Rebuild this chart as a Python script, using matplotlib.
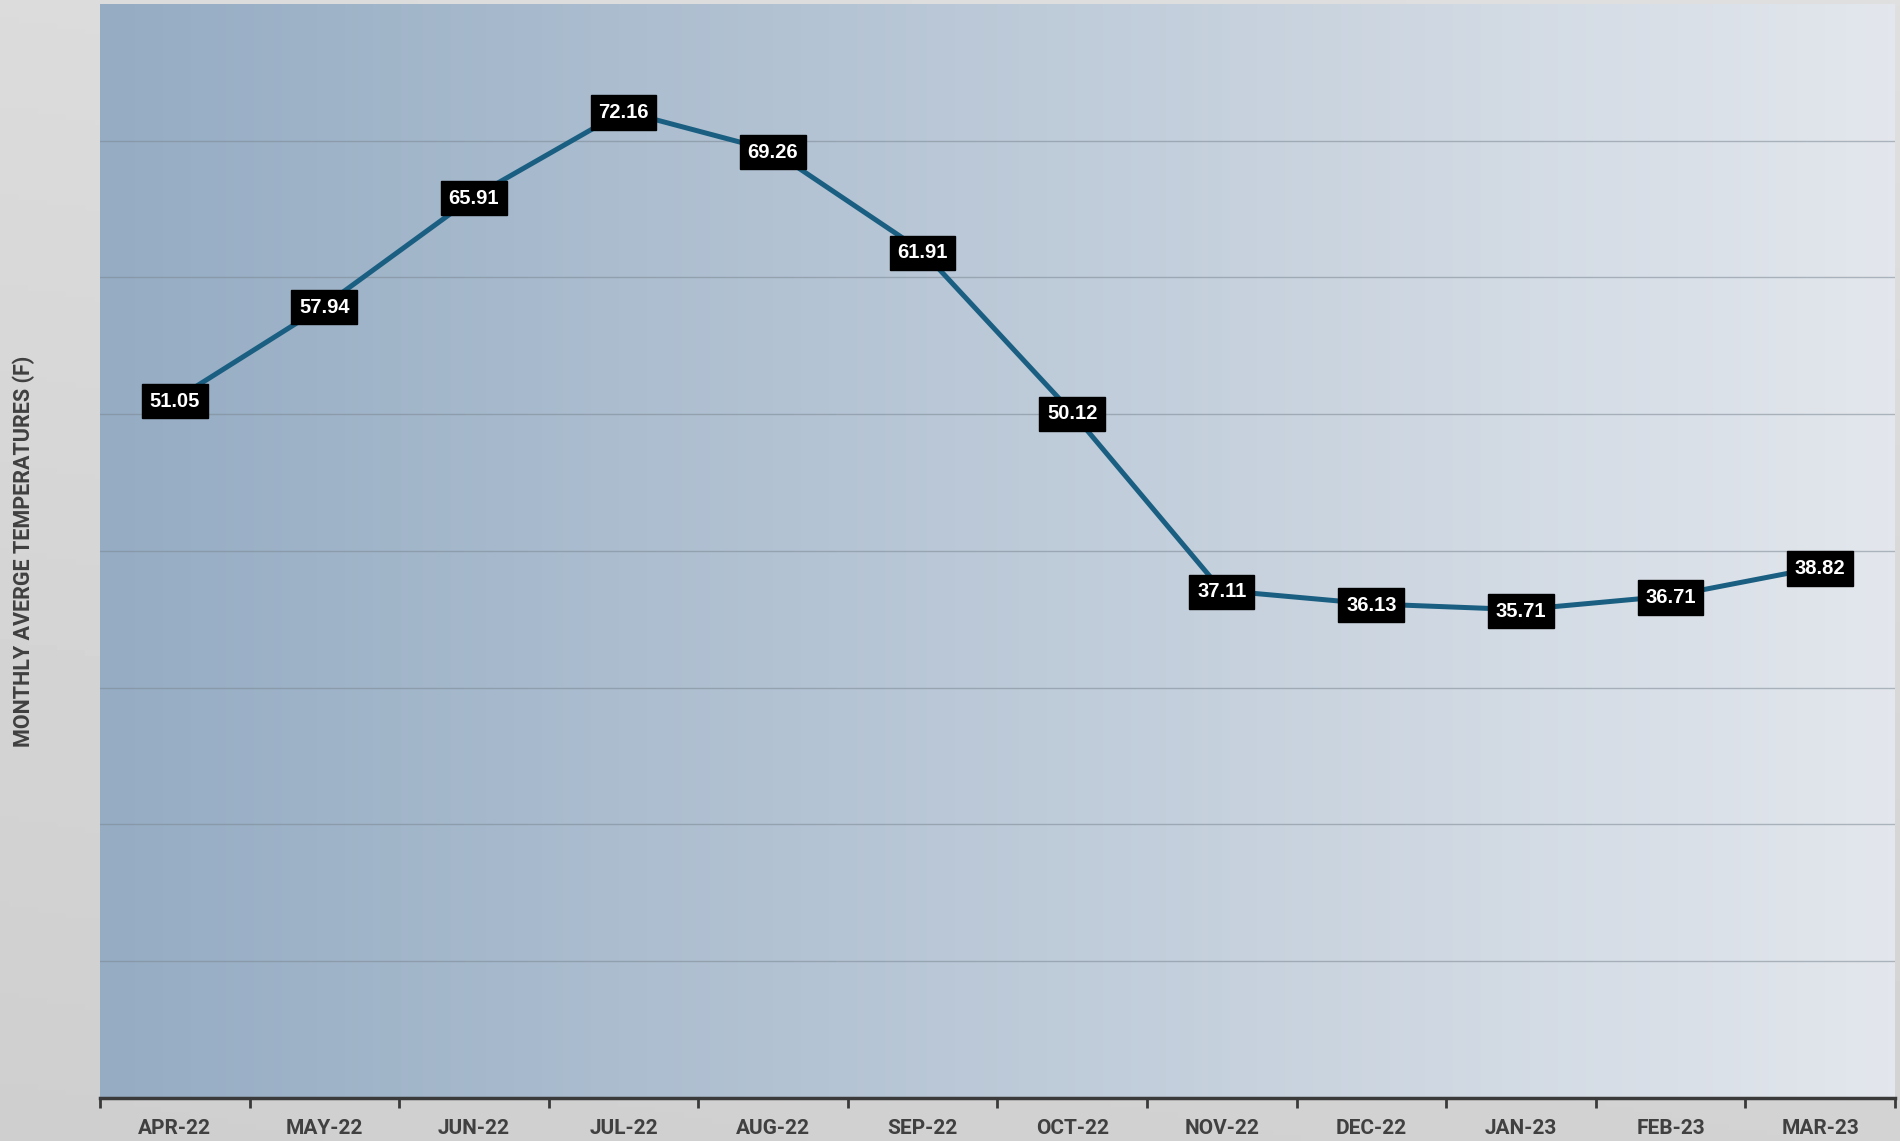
import matplotlib
matplotlib.use("Agg")
import matplotlib.pyplot as plt
import numpy as np
from matplotlib.colors import LinearSegmentedColormap

months = ["APR-22", "MAY-22", "JUN-22", "JUL-22", "AUG-22", "SEP-22",
          "OCT-22", "NOV-22", "DEC-22", "JAN-23", "FEB-23", "MAR-23"]
temps = [51.05, 57.94, 65.91, 72.16, 69.26, 61.91,
         50.12, 37.11, 36.13, 35.71, 36.71, 38.82]

LINE = "#1a5f82"
TEXT = "#404040"

fig = plt.figure(figsize=(19, 11.41), dpi=100)

# figure background: soft grey gradient
bg = fig.add_axes([0, 0, 1, 1], zorder=-10)
yy, xx = np.mgrid[0:1:200j, 0:1:200j]
shade = 0.86 - 0.05 * yy + 0.015 * xx
bg.imshow(shade, cmap="gray", vmin=0, vmax=1, aspect="auto",
          extent=[0, 1, 0, 1], origin="upper")
bg.axis("off")

ax = fig.add_axes([0.0526, 0.0377, 0.9447, 0.9588])
x = np.arange(len(months))

# plot area: horizontal blue-grey gradient
cmap = LinearSegmentedColormap.from_list("bg", ["#95acc3", "#e3e7ed"])
ax.imshow(np.linspace(0, 1, 256).reshape(1, -1), cmap=cmap, aspect="auto",
          extent=[-0.5, 11.5, 0, 80], zorder=0)

for g in range(10, 80, 10):
    ax.axhline(g, color="#7d8994", lw=1.0, alpha=0.55, zorder=1)

ax.plot(x, temps, color=LINE, lw=3.6, marker="o", markersize=19,
        markerfacecolor=LINE, markeredgecolor=LINE, zorder=3)

for xi, v in zip(x, temps):
    ax.annotate(f"{v:.2f}", (xi, v), xytext=(0, -1), textcoords="offset points",
                ha="center", va="center", fontsize=14.5, fontweight="bold",
                family="Liberation Sans", color="white", zorder=5,
                bbox=dict(boxstyle="square,pad=0.38", fc="black", ec="black"))

ax.set_xlim(-0.5, 11.5)
ax.set_ylim(0, 80)
ax.set_xticks(x)
ax.set_xticklabels(months, fontsize=15, fontweight="bold", color=TEXT,
                   family="Roboto")
ax.set_xticks(np.arange(-0.5, 12, 1), minor=True)
ax.tick_params(axis="x", which="major", length=0, pad=15)
ax.tick_params(axis="x", which="minor", length=7, width=2, color="#3a3a3a")
ax.set_yticks([])

for side in ["top", "right", "left"]:
    ax.spines[side].set_visible(False)
ax.spines["bottom"].set_color("#3a3a3a")
ax.spines["bottom"].set_linewidth(2.5)

fig.text(0.0126, 0.517, "MONTHLY AVERGE TEMPERATURES (F)", rotation=90,
         ha="center", va="center", fontsize=15.5, fontweight="bold",
         color=TEXT, family="Roboto")

fig.savefig("out.png", dpi=100)
